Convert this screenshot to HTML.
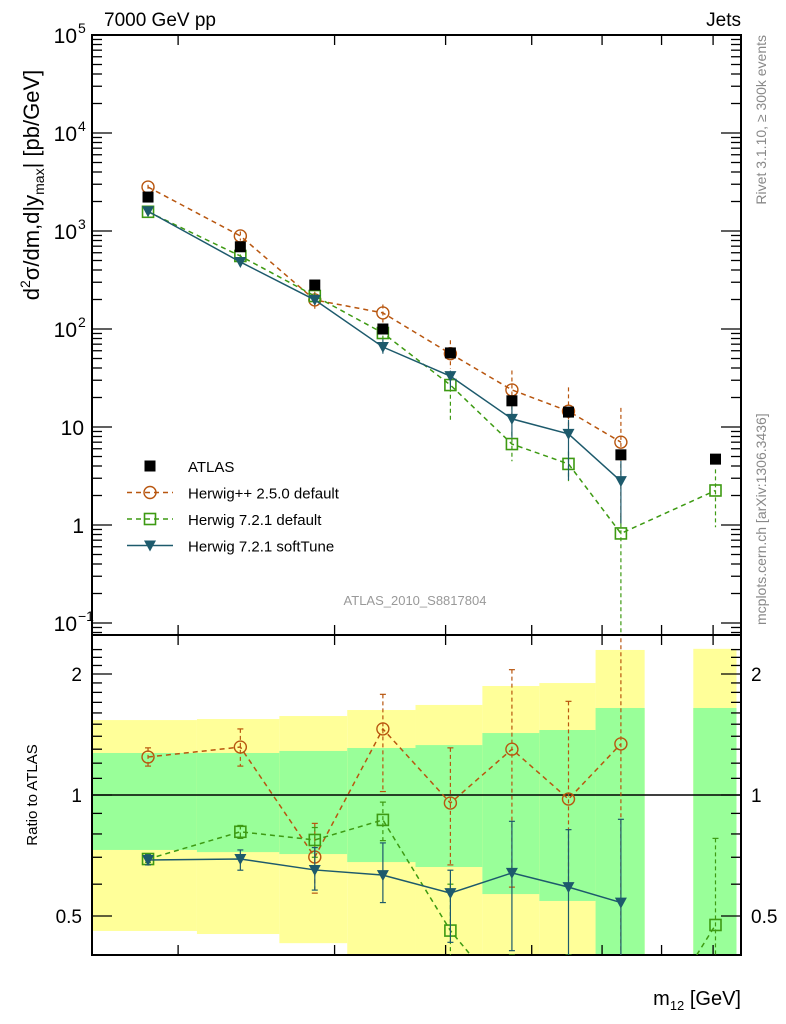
<!DOCTYPE html>
<html><head><meta charset="utf-8"><style>
html,body{margin:0;padding:0;background:#fff;overflow:hidden;width:786px;height:1024px;}
svg{display:block;font-family:"Liberation Sans",sans-serif;}
</style></head><body>
<svg id="chart" width="786" height="1024" viewBox="0 0 786 1024" xmlns="http://www.w3.org/2000/svg">
<g id="bands"></g>
<g id="grid"></g>
<g id="series"></g>
<text x="104" y="26" font-size="19">7000 GeV pp</text>
<text x="741" y="26" font-size="19" text-anchor="end">Jets</text>
<text transform="translate(766,35) rotate(-90)" font-size="14" fill="#888" text-anchor="end">Rivet 3.1.10, ≥ 300k events</text>
<text transform="translate(766,625) rotate(-90)" font-size="14" fill="#888">mcplots.cern.ch [arXiv:1306.3436]</text>
<text x="415" y="605" font-size="13" fill="#999" text-anchor="middle">ATLAS_2010_S8817804</text>
<text transform="translate(39,185) rotate(-90)" font-size="22" text-anchor="middle">d<tspan font-size="14" dy="-9">2</tspan><tspan dy="9">σ/dm,d|y</tspan><tspan font-size="14" dy="5">max</tspan><tspan dy="-5">| [pb/GeV]</tspan></text>
<text transform="translate(37,795) rotate(-90)" font-size="15" text-anchor="middle">Ratio to ATLAS</text>
<text x="741" y="1005" font-size="20" text-anchor="end">m<tspan font-size="13" dy="5">12</tspan><tspan dy="-5"> [GeV]</tspan></text>
<g id="legend"></g>
</svg>
<script>
const binLo = [160,210,260,310,370,440,510,590,760];
const binHi = [210,260,310,370,440,510,590,670,850];
const xCenters = [185,235,285,340,405,475,550,630,805];
const atlas = [2220,690,281,100,57,18.5,14.2,5.2,4.7];
const hwpp = [2810,890,198,146,56,23.9,14.5,7.0];
const hw721 = [1570,556,217,91,26.8,6.7,4.2,0.82,2.25];
const soft = [1590,483,198,65.5,33,12.1,8.5,2.8];
const statUp = [1.272,1.272,1.287,1.309,1.331,1.426,1.451,1.646,1.646];
const statDn = [0.730,0.721,0.713,0.681,0.662,0.567,0.545,0.3,0.3];
const totUp = [1.536,1.545,1.572,1.627,1.675,1.867,1.899,2.295,2.31];
const totDn = [0.459,0.451,0.428,0.3,0.3,0.3,0.3,0.3,0.3];
const rHwpp = [1.243,1.316,0.701,1.46,0.955,1.30,0.977,1.34];
const rHwppLo = [1.18,1.18,0.57,1.02,0.67,0.59,0.6,0.2];
const rHwppHi = [1.31,1.46,0.85,1.78,1.31,2.05,1.71,3];
const rHw721 = [0.693,0.81,0.773,0.867,0.46,0.3,0.3,0.2,0.475];
const rHw721Lo = [0.68,0.78,0.7,0.77,0.2,0.2,0.2,0.0001,0.2];
const rHw721Hi = [0.71,0.84,0.83,0.96,0.6,0.4,0.4,0.3,0.78];
const rSoft = [0.689,0.693,0.651,0.632,0.57,0.64,0.59,0.54];
const rSoftLo = [0.67,0.65,0.58,0.54,0.43,0.41,0.2,0.2];
const rSoftHi = [0.71,0.73,0.74,0.76,0.65,0.86,0.82,0.87];
const yTickExp = ["5","4","3","2","","","−1"];
const rTickLabels = ["2","1","0.5"];

const NS="http://www.w3.org/2000/svg";
const X0=92,X1=741,YT=35,YM=635,YB=955;
const lx0=Math.log10(160), lx1=Math.log10(860);
const fx=v=>X0+(Math.log10(v)-lx0)/(lx1-lx0)*(X1-X0);
const fy=v=>35+(5-Math.log10(v))*98;
const fr=v=>795-Math.log10(v)*402;
const clampR=y=>Math.max(YM,Math.min(YB,y));
function el(tag,attrs,parent){const e=document.createElementNS(NS,tag);for(const k in attrs)e.setAttribute(k,attrs[k]);parent.appendChild(e);return e;}
const bands=document.getElementById('bands'),grid=document.getElementById('grid'),ser=document.getElementById('series'),leg=document.getElementById('legend');

for(let i=0;i<binLo.length;i++){
  const x=fx(binLo[i]),w=fx(binHi[i])-x;
  let y1=clampR(fr(totUp[i])),y2=clampR(fr(totDn[i]));
  let r=el('rect',{x:x,y:y1,width:w,height:y2-y1,fill:'#ffff99'},bands);
  
  
  y1=clampR(fr(statUp[i]));y2=clampR(fr(statDn[i]));
  r=el('rect',{x:x,y:y1,width:w,height:y2-y1,fill:'#99ff99'},bands);
  
  
}
el('rect',{x:X0,y:YT,width:X1-X0,height:YM-YT,fill:'none',stroke:'#000','stroke-width':2},grid);
el('rect',{x:X0,y:YM,width:X1-X0,height:YB-YM,fill:'none',stroke:'#000','stroke-width':2},grid);
el('line',{x1:X0,x2:X1,y1:fr(1),y2:fr(1),stroke:'#000','stroke-width':1.5},grid);
for(let d=-2;d<=5;d++){
  for(let m=1;m<=9;m++){
    const v=m*Math.pow(10,d);const y=fy(v);
    if(y<YT-0.5||y>YM)continue;
    const L=m===1?20:10;
    el('line',{x1:X0,x2:X0+L,y1:y,y2:y,stroke:'#000','stroke-width':1.3},grid);
    el('line',{x1:X1,x2:X1-L,y1:y,y2:y,stroke:'#000','stroke-width':1.3},grid);
  }
}
yTickExp.forEach((e,i)=>{
  const y=fy(Math.pow(10,5-i))+8;
  const tx=el('text',{x:e?X0-15:X0-8,y:y,'font-size':21,'text-anchor':'end'},grid);
  tx.textContent=(i===5)?'1':'10';
  
  
  if(e){
    const s=el('text',{x:X0-14,y:y-10,'font-size':14},grid);
    s.textContent=e;
    
    
  }
});
for(let k=4;k<=23;k++){
  const v=k/10;const y=fr(v);
  if(y<YM||y>YB)continue;
  const L=(k===5||k===10||k===20)?20:10;
  el('line',{x1:X0,x2:X0+L,y1:y,y2:y,stroke:'#000','stroke-width':1.3},grid);
  el('line',{x1:X1,x2:X1-L,y1:y,y2:y,stroke:'#000','stroke-width':1.3},grid);
}
[2,1,0.5].forEach((v,i)=>{
  let t=el('text',{x:X0-10,y:fr(v)+7,'font-size':19,'text-anchor':'end'},grid);t.textContent=rTickLabels[i];
  
  
  t=el('text',{x:X1+10,y:fr(v)+7,'font-size':19},grid);t.textContent=rTickLabels[i];
  
  
});
for(let v=200;v<=800;v+=100){
  const x=fx(v);
  [[YT,1],[YM,-1],[YM,1],[YB,-1]].forEach(([y,s])=>el('line',{x1:x,x2:x,y1:y,y2:y+s*10,stroke:'#000','stroke-width':1.3},grid));
}
function marker(kind,x,y,color,g){
  if(kind==='sq')return el('rect',{x:x-5.5,y:y-5.5,width:11,height:11,fill:'#000'},g);
  if(kind==='circ')return el('circle',{cx:x,cy:y,r:6,fill:'none',stroke:color,'stroke-width':1.4},g);
  if(kind==='osq')return el('rect',{x:x-5.5,y:y-5.5,width:11,height:11,fill:'none',stroke:color,'stroke-width':1.6},g);
  if(kind==='tri')return el('path',{d:`M${x-6},${y-5}L${x+6},${y-5}L${x},${y+6}Z`,fill:color},g);
}
function drawSeries(name,vals,rv,lo,hi,kind,color,dash){
  const g=el('g',{},ser);
  
  
  const clipM=el('clipPath',{id:name+'cm'},g);el('rect',{x:X0,y:YT,width:X1-X0,height:YM-YT},clipM);
  const clipR=el('clipPath',{id:name+'cr'},g);el('rect',{x:X0,y:YM,width:X1-X0,height:YB-YM},clipR);
  const gm=el('g',{'clip-path':`url(#${name}cm)`},g), gr=el('g',{'clip-path':`url(#${name}cr)`},g);
  const da=dash?'5,4':'none';
  let pts=vals.map((v,i)=>[fx(xCenters[i]),fy(v)]);
  el('polyline',{points:pts.map(p=>p.join(',')).join(' '),fill:'none',stroke:color,'stroke-width':1.5,'stroke-dasharray':da},gm);
  vals.forEach((v,i)=>{
    const x=fx(xCenters[i]);
    const a=fy(v*hi[i]/rv[i]),b=fy(v*lo[i]/rv[i]);
    el('line',{x1:x,x2:x,y1:a,y2:b,stroke:color,'stroke-width':1.2,'stroke-dasharray':dash?'4,3':'none'},gm);
    const m=marker(kind,x,fy(v),color,gm);
    
    
  });
  pts=rv.map((v,i)=>[fx(xCenters[i]),fr(v)]);
  el('polyline',{points:pts.map(p=>p.join(',')).join(' '),fill:'none',stroke:color,'stroke-width':1.5,'stroke-dasharray':da},gr);
  rv.forEach((v,i)=>{
    const x=fx(xCenters[i]);const a=fr(hi[i]),b=fr(lo[i]);
    el('line',{x1:x,x2:x,y1:a,y2:b,stroke:color,'stroke-width':1.2,'stroke-dasharray':dash?'4,3':'none'},gr);
    el('line',{x1:x-3,x2:x+3,y1:a,y2:a,stroke:color,'stroke-width':1.2},gr);
    el('line',{x1:x-3,x2:x+3,y1:b,y2:b,stroke:color,'stroke-width':1.2},gr);
    const m=marker(kind,x,fr(v),color,gr);
    
    
  });
}
drawSeries('herwigpp-default',hwpp,rHwpp,rHwppLo,rHwppHi,'circ','#b8560f',true);
drawSeries('herwig721-default',hw721,rHw721,rHw721Lo,rHw721Hi,'osq','#3d9a12',true);
drawSeries('herwig721-softtune',soft,rSoft,rSoftLo,rSoftHi,'tri','#1d5a6c',false);
atlas.forEach((v,i)=>{
  const m=marker('sq',fx(xCenters[i]),fy(v),'#000',ser);
  
  
});
const items=[['ATLAS','sq','#000',null],['Herwig++ 2.5.0 default','circ','#b8560f','5,4'],['Herwig 7.2.1 default','osq','#3d9a12','5,4'],['Herwig 7.2.1 softTune','tri','#1d5a6c','none']];
items.forEach((it,i)=>{
  const y=466+i*26.5;
  const g=el('g',{},leg);
  
  
  if(it[3])el('line',{x1:127,x2:173,y1:y,y2:y,stroke:it[2],'stroke-width':1.5,'stroke-dasharray':it[3]},g);
  marker(it[1],150,y,it[2],g);
  const t=el('text',{x:188,y:y+6,'font-size':15},g);t.textContent=it[0];
});
</script>
</body></html>
